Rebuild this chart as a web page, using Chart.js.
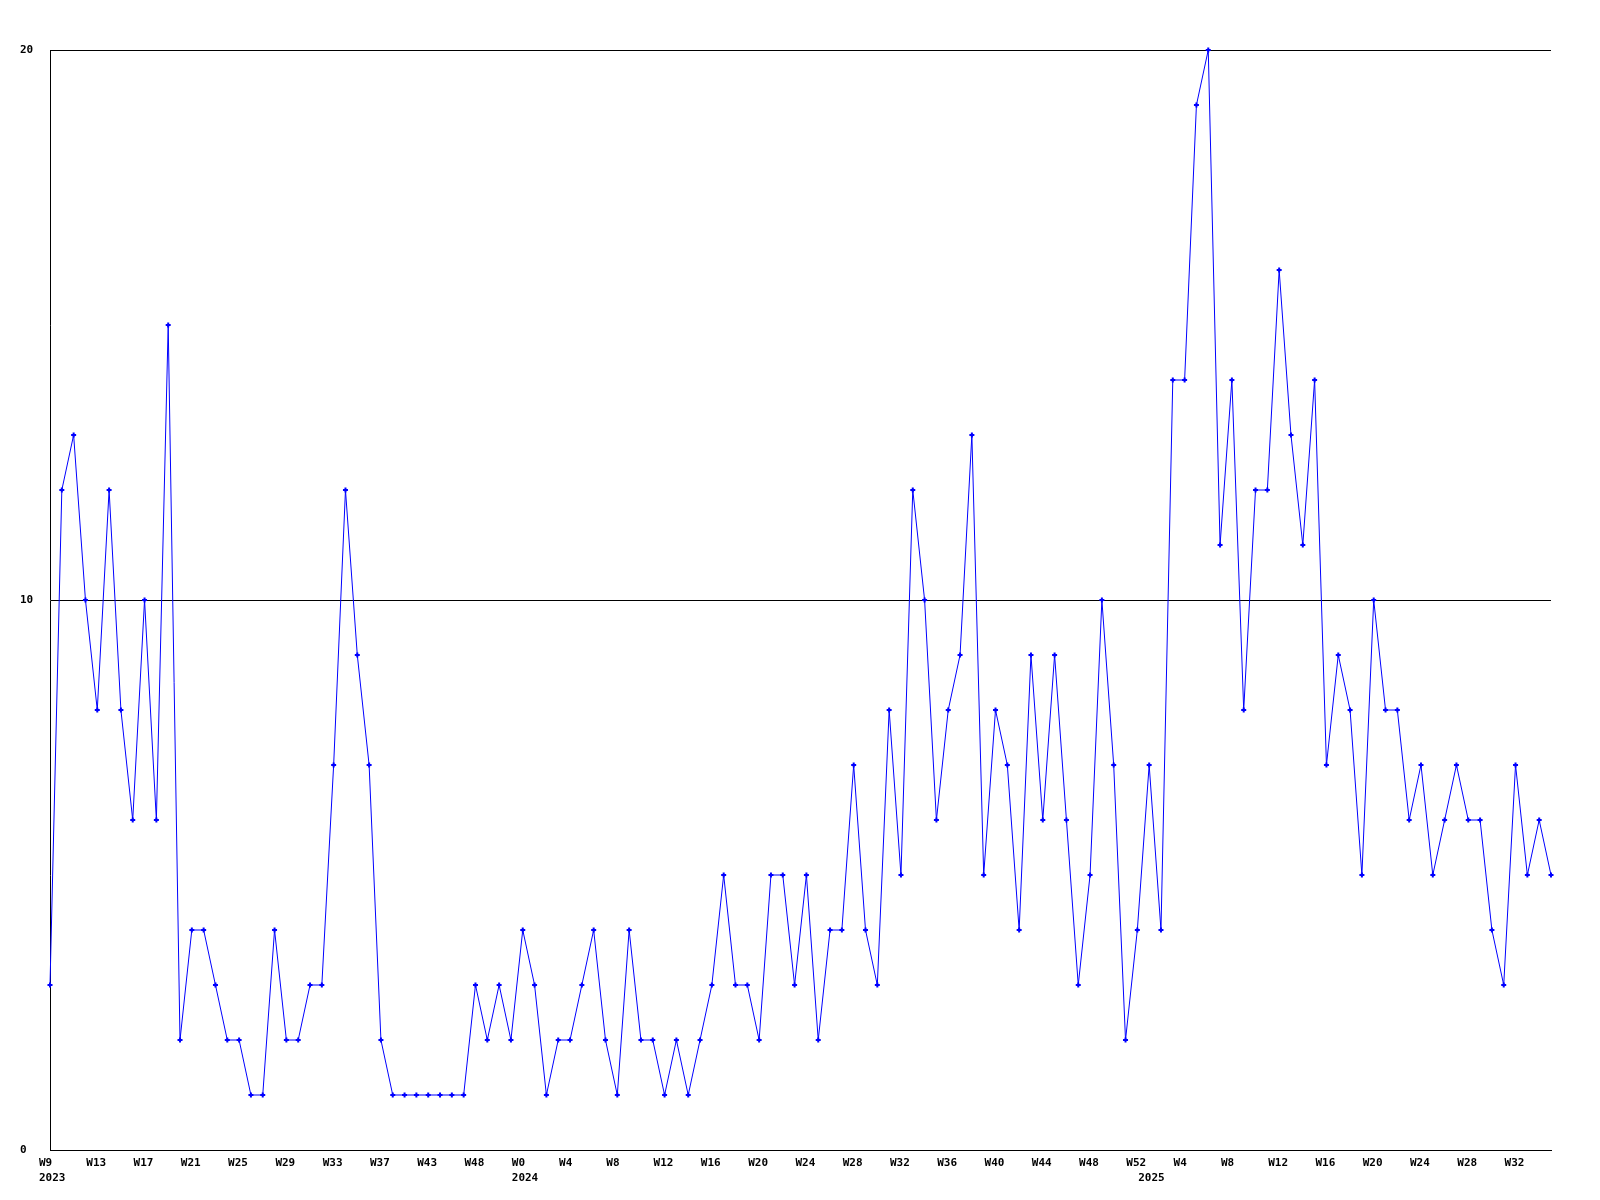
<!DOCTYPE html>
<html><head><meta charset="utf-8">
<script src="https://cdn.jsdelivr.net/npm/chart.js@4"></script>
<style>html,body{margin:0;padding:0;background:#fff}canvas{display:block}</style>
</head><body>
<canvas id="c" width="1600" height="1200"></canvas>
<script>
const years = ['2023', '2024', '2025'];
const weeks2023 = ['W9','W10','W11','W12','W13','W14','W15','W16','W17','W18','W19','W20','W21','W22','W23','W24','W25','W26','W27','W28','W29','W30','W31','W32','W33','W34','W35','W36','W37','W38','W40','W41','W43','W44','W45','W47','W48','W49','W50','W52'];
const weeks2024 = ['W0','W1','W2','W3','W4','W5','W6','W7','W8','W9','W10','W11','W12','W13','W14','W15','W16','W17','W18','W19','W20','W21','W22','W23','W24','W25','W26','W27','W28','W29','W30','W31','W32','W33','W34','W35','W36','W37','W38','W39','W40','W41','W42','W43','W44','W45','W46','W47','W48','W49','W50','W51','W52'];
const weeks2025 = ['W1','W2','W3','W4','W5','W6','W7','W8','W9','W10','W11','W12','W13','W14','W15','W16','W17','W18','W19','W20','W21','W22','W23','W24','W25','W26','W27','W28','W29','W30','W31','W32','W33','W34','W35'];
const counts = [
  3,12,13,10,8,12,8,6,10,6,
  15,2,4,4,3,2,2,1,1,4,
  2,2,3,3,7,12,9,7,2,1,
  1,1,1,1,1,1,3,2,3,2,
  4,3,1,2,2,3,4,2,1,4,
  2,2,1,2,1,2,3,5,3,3,
  2,5,5,3,5,2,4,4,7,4,
  3,8,5,12,10,6,8,9,13,5,
  8,7,4,9,6,9,6,3,5,10,
  7,2,4,7,4,14,14,19,20,11,
  14,8,12,12,16,13,11,14,7,9,
  8,5,10,8,8,6,7,5,6,7,
  6,6,4,3,7,5,6,5
];
const yTicks = [0, 10, 20];
const labelEvery = 4;

const weekGroups = [weeks2023, weeks2024, weeks2025];
const categories = [].concat(...weekGroups);
const yearAt = {};
let pos = 0;
weekGroups.forEach((g, i) => { yearAt[pos] = years[i]; pos += g.length; });

const tickFont = { family: 'DejaVu Sans Mono', weight: 'bold', size: 11, lineHeight: 1.33 };

new Chart(document.getElementById('c'), {
  type: 'line',
  data: {
    labels: categories,
    datasets: [{
      data: counts,
      borderColor: '#0000ff',
      borderWidth: 1,
      tension: 0,
      fill: false,
      clip: 6,
      pointStyle: 'cross',
      pointRadius: 2.5,
      pointBackgroundColor: '#0000ff',
      pointBorderColor: '#0000ff',
      pointBorderWidth: 2
    }]
  },
  options: {
    responsive: false,
    animation: false,
    devicePixelRatio: 1,
    events: [],
    layout: { padding: { left: 20, top: 50, right: 49, bottom: 0 } },
    plugins: { legend: { display: false }, tooltip: { enabled: false } },
    scales: {
      x: {
        grid: { display: false, drawTicks: false },
        border: { color: '#000', width: 1 },
        ticks: {
          autoSkip: false, maxRotation: 0, minRotation: 0,
          align: 'start', labelOffset: -11, padding: 6,
          color: '#000', font: tickFont,
          callback: function (v, i) {
            const w = i % labelEvery === 0 ? categories[i] : '';
            const y = yearAt[i];
            return y ? [w, y] : w;
          }
        },
        afterFit: s => { s.height = 50; }
      },
      y: {
        min: 0, max: 20,
        afterBuildTicks: s => { s.ticks = yTicks.map(v => ({ value: v })); },
        grid: { color: '#000', lineWidth: 1, drawTicks: false },
        border: { color: '#000', width: 1 },
        ticks: { crossAlign: 'far', padding: 0, color: '#000', font: tickFont },
        afterFit: s => { s.width = 30; }
      }
    }
  }
});
</script>
</body></html>
